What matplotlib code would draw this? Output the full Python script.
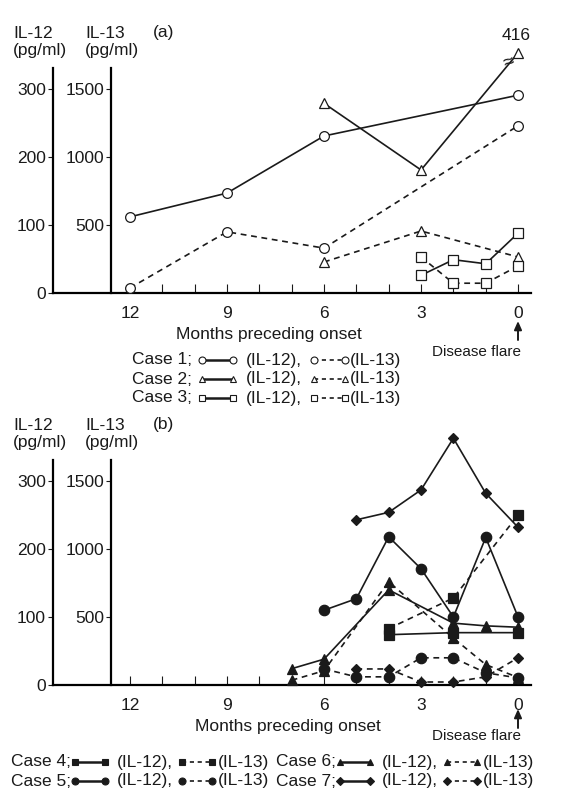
#!/usr/bin/env python3
"""IL-12 / IL-13 levels in the months preceding onset, panels (a) and (b)."""

import matplotlib
matplotlib.use("Agg")
import matplotlib.pyplot as plt

plt.rcParams["font.family"] = ["Liberation Sans", "DejaVu Sans"]

# --- data, panel (a): months preceding onset, IL-12 / IL-13 in pg/ml ---
C1_M = [12, 9, 6, 0]
C1_IL12 = [112, 147, 231, 291]
C1_IL13 = [37, 450, 330, 1230]
C2_M = [6, 3, 0]
C2_IL12 = [279, 181, 416]
C2_IL13 = [228, 456, 265]
C3_M = [3, 2, 1, 0]
C3_IL12 = [26, 49, 43, 88]
C3_IL13 = [265, 72, 72, 199]

# --- data, panel (b) ---
C4_M = [4, 2, 0]
C4_IL12 = [74, 77, 77]
C4_IL13 = [415, 640, 1250]
C5_M = [6, 5, 4, 3, 2, 1, 0]
C5_IL12 = [110, 127, 218, 171, 100, 217, 100]
C5_IL13 = [118, 60, 60, 200, 200, 90, 52]
C6_M = [7, 6, 4, 2, 1, 0]
C6_IL12 = [24, 38, 140, 91, 87, 85]
C6_IL13 = [35, 105, 760, 345, 150, 55]
C7_M = [5, 4, 3, 2, 1, 0]
C7_IL12 = [243, 254, 287, 363, 282, 232]
C7_IL13 = [118, 118, 22, 22, 60, 200]

MONTH_TICKS = [12, 9, 6, 3, 0]
IL12_TICKS = [0, 100, 200, 300]
IL13_TICKS = [500, 1000, 1500]

INK = "#1a1a1a"
W, H = 566, 807
FS = 12.5

# values above the break are drawn compressed (broken axis in panel a)
BREAK = 330


def shown(values):
    return [v if v <= BREAK else BREAK + (v - BREAK) * 0.27 for v in values]


fig = plt.figure(figsize=(W / 100, H / 100), dpi=100)


def make_panel(top, bottom, label_x):
    ax = fig.add_axes([53 / W, 1 - bottom / H, 478 / W, (bottom - top) / H])
    ax.set_xlim(14.38, -0.40)
    ax.set_ylim(0, 331)
    ax.spines[["top", "right"]].set_visible(False)
    ax.spines[["left", "bottom"]].set_linewidth(1.6)
    ax.set_xticks(MONTH_TICKS)
    ax.set_xticks(range(0, 13), minor=True)
    ax.tick_params(axis="x", which="both", direction="in", length=6.5, width=0.8,
                   pad=9, labelsize=FS, colors=INK)
    ax.set_yticks(IL12_TICKS)
    ax.tick_params(axis="y", direction="out", length=3.5, width=0.8, pad=1.5,
                   labelsize=FS, colors=INK)
    ax.set_xlabel("Months preceding onset", fontsize=FS, color=INK)
    ax.xaxis.set_label_coords((label_x - 53) / 478, -41 / (bottom - top))
    ax.xaxis.label.set_verticalalignment("center")

    tw = ax.twinx()
    tw.set_ylim(0, 331 * 5)
    tw.spines[["top", "right", "bottom"]].set_visible(False)
    tw.spines["left"].set_visible(True)
    tw.spines["left"].set_position(("axes", 58 / 478))
    tw.spines["left"].set_linewidth(1.6)
    tw.yaxis.tick_left()
    tw.set_yticks(IL13_TICKS)
    tw.tick_params(axis="y", direction="out", length=3.5, width=0.8, pad=1.5,
                   labelsize=FS, colors=INK)
    return ax, tw


def series(ax, x, y, marker, ms, filled, dashed):
    ax.plot(x, y, color=INK, lw=1.2, ls=(0, (3.5, 2.8)) if dashed else "-",
            marker=marker, ms=ms, mfc=INK if filled else "white", mec=INK,
            mew=0.9, clip_on=False, zorder=3)


# --- Panel (a) ---
ax_a, tw_a = make_panel(68, 293, 269)
series(ax_a, C1_M, C1_IL12, "o", 7, False, False)
series(tw_a, C1_M, C1_IL13, "o", 7, False, True)
series(ax_a, C2_M, shown(C2_IL12), "^", 7.5, False, False)
series(tw_a, C2_M, C2_IL13, "^", 7.5, False, True)
series(ax_a, C3_M, C3_IL12, "s", 6.5, False, False)
series(tw_a, C3_M, C3_IL13, "s", 6.5, False, True)

# break mark on the case 2 line, just below the off-scale point
y_lo, y_hi = shown(C2_IL12)[-2], shown(C2_IL12)[-1]
frac = (BREAK + 8 - y_lo) / (y_hi - y_lo)
bx = C2_M[-2] + (C2_M[-1] - C2_M[-2]) * frac
ax_a.text(bx, BREAK + 8, "≈", fontsize=14, rotation=20, ha="center", va="center",
          color=INK, zorder=4)

# --- Panel (b) ---
ax_b, tw_b = make_panel(460, 685, 288)
series(ax_b, C4_M, C4_IL12, "s", 7, True, False)
series(tw_b, C4_M, C4_IL13, "s", 7, True, True)
series(ax_b, C5_M, C5_IL12, "o", 7.5, True, False)
series(tw_b, C5_M, C5_IL13, "o", 7.5, True, True)
series(ax_b, C6_M, C6_IL12, "^", 7.5, True, False)
series(tw_b, C6_M, C6_IL13, "^", 7.5, True, True)
series(ax_b, C7_M, C7_IL12, "D", 4.8, True, False)
series(tw_b, C7_M, C7_IL13, "D", 4.8, True, True)

# --- overlay in pixel coordinates for headers, notes and legends ---
ov = fig.add_axes([0, 0, 1, 1])
ov.set_xlim(0, W)
ov.set_ylim(H, 0)
ov.axis("off")

for y0, tag in [(33, "(a)"), (425, "(b)")]:
    ov.text(13, y0, "IL-12", fontsize=FS, va="center", color=INK)
    ov.text(13, y0 + 18, "(pg/ml)", fontsize=FS, va="center", color=INK)
    ov.text(85, y0, "IL-13", fontsize=FS, va="center", color=INK)
    ov.text(85, y0 + 18, "(pg/ml)", fontsize=FS, va="center", color=INK)
    ov.text(153, y0, tag, fontsize=FS, va="center", color=INK)

ov.text(516, 35, "416", fontsize=FS, ha="center", va="center", color=INK)

for y_arrow, y_text in [(321, 352), (709, 736)]:
    ov.annotate("", xy=(518, y_arrow), xytext=(518, y_arrow + 19),
                arrowprops=dict(arrowstyle="-|>,head_width=0.22,head_length=0.5",
                                color=INK, lw=1.4, shrinkA=0, shrinkB=0))
    ov.text(476, y_text, "Disease flare", fontsize=11, ha="center", va="center",
            color=INK)


def sample(x0, x1, y, marker, filled, dashed):
    ov.plot([x0, x1], [y, y], color=INK, lw=1.2 if dashed else 1.8,
            ls=(0, (2.5, 2.2)) if dashed else "-", marker=marker,
            ms=4 if marker == "D" else 5,
            mfc=INK if filled else "white", mec=INK, mew=0.8)


LEGEND_A = [("Case 1;", "o"), ("Case 2;", "^"), ("Case 3;", "s")]
for i, (name, mk) in enumerate(LEGEND_A):
    y = 360 + 19 * i
    ov.text(132, y, name, fontsize=FS, va="center", color=INK)
    sample(202, 233, y, mk, False, False)
    ov.text(246, y, "(IL-12),", fontsize=FS, va="center", color=INK)
    sample(314, 345, y, mk, False, True)
    ov.text(350, y, "(IL-13)", fontsize=FS, va="center", color=INK)

LEGEND_B = [("Case 4;", "s", "Case 6;", "^"), ("Case 5;", "o", "Case 7;", "D")]
for i, (n1, m1, n2, m2) in enumerate(LEGEND_B):
    y = 762 + 19 * i
    for x_off, name, mk in [(0, n1, m1), (265, n2, m2)]:
        ov.text(11 + x_off, y, name, fontsize=FS, va="center", color=INK)
        sample(75 + x_off, 105 + x_off, y, mk, True, False)
        ov.text(117 + x_off, y, "(IL-12),", fontsize=FS, va="center", color=INK)
        sample(182 + x_off, 212 + x_off, y, mk, True, True)
        ov.text(218 + x_off, y, "(IL-13)", fontsize=FS, va="center", color=INK)

fig.savefig("out.png", dpi=100)
plt.close(fig)
